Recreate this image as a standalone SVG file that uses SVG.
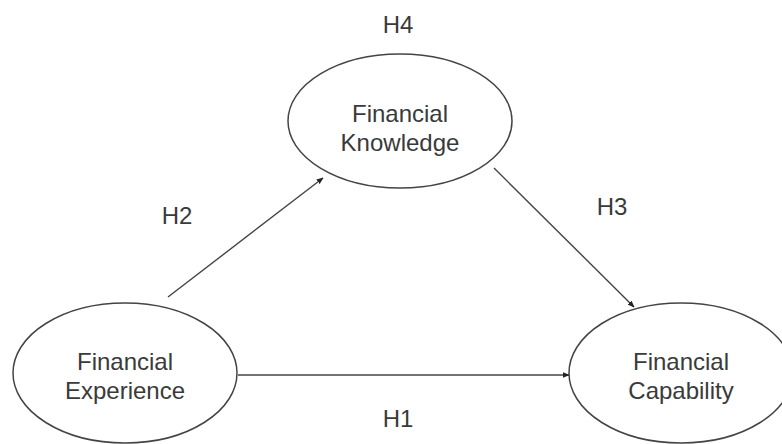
<svg xmlns="http://www.w3.org/2000/svg" width="782" height="444" viewBox="0 0 782 444">
<style>
.node ellipse{fill:#fff;stroke:#444;stroke-width:1.5}
text{font-family:"Liberation Sans",Arial,sans-serif;font-size:24px;fill:#3a3a3a;text-anchor:middle}
.edge{stroke:#444;stroke-width:1.4;fill:none;marker-end:url(#ah)}
</style>
<defs>
<marker id="ah" viewBox="0 0 10 10" refX="9" refY="5" markerWidth="7" markerHeight="7" markerUnits="userSpaceOnUse" orient="auto">
<path d="M0,1 L10,5 L0,9 z" fill="#222"/>
</marker>
</defs>
<rect width="782" height="444" fill="#fff"/>
<g id="connectors">
<line class="edge" x1="168" y1="297" x2="323" y2="178"/>
<line class="edge" x1="494" y1="168" x2="634" y2="307"/>
<line class="edge" x1="238" y1="375" x2="569" y2="375"/>
</g>
<g id="knowledge" class="node">
<ellipse cx="400" cy="121" rx="112" ry="67"/>
<text x="400" y="122">Financial</text>
<text x="400" y="151">Knowledge</text>
</g>
<g id="experience" class="node">
<ellipse cx="125" cy="373" rx="112" ry="70"/>
<text x="125" y="370">Financial</text>
<text x="125" y="399">Experience</text>
</g>
<g id="capability" class="node">
<ellipse cx="681" cy="373" rx="112" ry="70"/>
<text x="681" y="370">Financial</text>
<text x="681" y="399">Capability</text>
</g>
<g id="labels">
<text x="398" y="33">H4</text>
<text x="177" y="224">H2</text>
<text x="612" y="215">H3</text>
<text x="398" y="427">H1</text>
</g>
</svg>
